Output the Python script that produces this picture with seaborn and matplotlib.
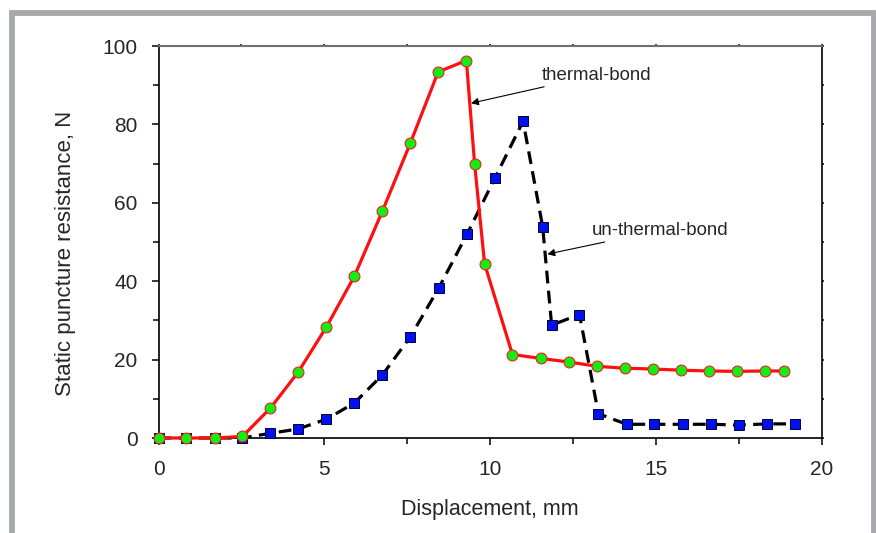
import matplotlib
matplotlib.use("Agg")
import matplotlib.pyplot as plt
from matplotlib.patches import Rectangle
from matplotlib.ticker import MultipleLocator
import seaborn as sns
import pandas as pd

# Displacement (mm) and static puncture resistance (N)
thermal_x = [0.0, 0.84, 1.69, 2.53, 3.37, 4.21, 5.06, 5.90, 6.75, 7.59, 8.43,
             9.28, 9.53, 9.83, 10.67, 11.52, 12.36, 13.21, 14.05, 14.90,
             15.74, 16.59, 17.43, 18.28, 18.85]
thermal_y = [0.0, 0.0, 0.0, 0.4, 7.6, 16.8, 28.3, 41.2, 57.9, 75.2, 93.4,
             96.3, 69.8, 44.4, 21.3, 20.3, 19.4, 18.3, 17.8, 17.6,
             17.3, 17.1, 17.0, 17.1, 17.1]

unthermal_x = [0.0, 0.84, 1.69, 2.53, 3.37, 4.21, 5.06, 5.90, 6.75, 7.59,
               8.45, 9.30, 10.14, 10.99, 11.58, 11.85, 12.69, 13.26, 14.11,
               14.95, 15.80, 16.65, 17.49, 18.34, 19.18]
unthermal_y = [0.0, 0.0, 0.0, 0.0, 1.2, 2.3, 4.8, 8.9, 16.1, 25.8,
               38.3, 52.0, 66.3, 80.8, 53.9, 28.8, 31.5, 6.2, 3.5,
               3.5, 3.5, 3.5, 3.3, 3.6, 3.6]

x_ticks = [0, 5, 10, 15, 20]
y_ticks = [0, 20, 40, 60, 80, 100]

sns.set_theme(style="white")
plt.rcParams["font.family"] = ["Liberation Sans", "DejaVu Sans"]
text_color = "#262626"

fig = plt.figure(figsize=(8.76, 5.33), dpi=100)
ax = fig.add_axes([158.5 / 876, 1 - 438 / 533, (822 - 158.5) / 876, (438 - 46) / 533])

df_t = pd.DataFrame({"x": thermal_x, "y": thermal_y})
df_u = pd.DataFrame({"x": unthermal_x, "y": unthermal_y})

sns.lineplot(data=df_u, x="x", y="y", ax=ax, sort=False, estimator=None,
             color="black", linewidth=2.3, linestyle=(0, (4.0, 2.3)),
             marker="s", markersize=6.8, markerfacecolor="#0010ee",
             markeredgecolor="#000033", markeredgewidth=0.7, zorder=3,
             clip_on=False)
sns.lineplot(data=df_t, x="x", y="y", ax=ax, sort=False, estimator=None,
             color="#ff1010", linewidth=2.3, linestyle="-",
             marker="o", markersize=7.8, markerfacecolor="#11ee11",
             markeredgecolor="#ee2020", markeredgewidth=0.8, zorder=4,
             clip_on=False)

ax.set_xlim(0, 20)
ax.set_ylim(0, 100)
ax.set_xticks(x_ticks)
ax.set_yticks(y_ticks)
ax.xaxis.set_minor_locator(MultipleLocator(2.5))
ax.yaxis.set_minor_locator(MultipleLocator(10))

ax.tick_params(axis="both", which="major", direction="out", length=5, width=1.1,
               color="black", labelsize=15, labelcolor=text_color)
ax.tick_params(axis="both", which="minor", direction="out", length=4, width=1.1,
               color="black")
ax.tick_params(axis="x", which="major", pad=11)
ax.tick_params(axis="y", which="major", pad=10)
ax.tick_params(axis="x", which="both", bottom=True, top=True)
ax.tick_params(axis="y", which="both", left=True, right=True)
for t in ax.xaxis.get_major_ticks() + ax.xaxis.get_minor_ticks():
    t.tick2line.set_markersize(1.2)
for t in ax.yaxis.get_major_ticks() + ax.yaxis.get_minor_ticks():
    t.tick2line.set_markersize(1.2)

for side in ["left", "bottom", "right"]:
    ax.spines[side].set_color("black")
    ax.spines[side].set_linewidth(1.2)
ax.spines["top"].set_color("#707070")
ax.spines["top"].set_linewidth(1.5)

ax.set_xlabel("Displacement, mm", fontsize=15.5, color=text_color, labelpad=14)
ax.set_ylabel("Static puncture resistance, N", fontsize=16, color=text_color)
ax.yaxis.set_label_coords(-0.124, 0.47)

arrow = dict(arrowstyle="-|>", color="black", lw=0.8, mutation_scale=11,
             shrinkA=0, shrinkB=0)
ax.annotate("thermal-bond", xy=(9.42, 85.4), xytext=(11.55, 92.6),
            fontsize=13.4, color=text_color, ha="left", va="center",
            arrowprops=arrow)
ax.annotate("un-thermal-bond", xy=(11.72, 46.9), xytext=(13.07, 53.0),
            fontsize=13.4, color=text_color, ha="left", va="center",
            arrowprops=arrow)

# grey frame around the figure panel
fig.patches.append(Rectangle((12 / 876, -0.05), (873.5 - 12) / 876, 1.05 - 12.5 / 533,
                             transform=fig.transFigure, fill=False,
                             edgecolor="#a8a9ad", linewidth=4.2, zorder=10))

fig.savefig("out.png", dpi=100)
